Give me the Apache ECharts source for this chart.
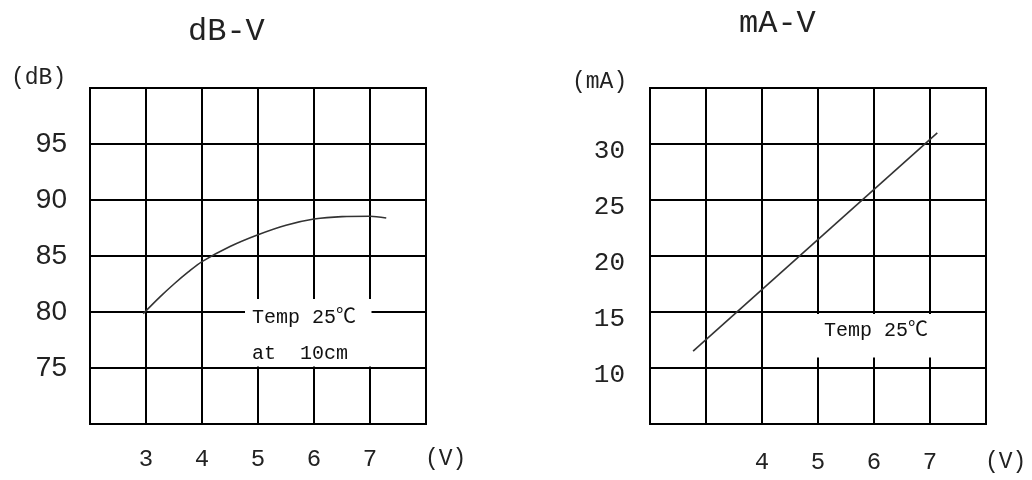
<!DOCTYPE html>
<html>
<head>
<meta charset="utf-8">
<script src="https://cdn.jsdelivr.net/npm/echarts@6/dist/echarts.min.js"></script>
<style>
html,body{margin:0;padding:0;background:#fff;}
#c{width:1032px;height:480px;}
</style>
</head>
<body>
<div id="c"></div>
<script>
// ---- data ----
const dbVoltage = [2.95, 3.25, 3.5, 3.75, 4.0, 4.5, 5.0, 5.5, 6.0, 6.5, 7.0, 7.29];
const dbValues  = [79.85, 81.35, 82.5, 83.55, 84.5, 85.85, 86.9, 87.75, 88.3, 88.52, 88.55, 88.4];
const maVoltage = [2.77, 7.13];
const maValues  = [11.5, 31.0];
const dbXTicks = [3, 4, 5, 6, 7];
const maXTicks = [4, 5, 6, 7];
const dbYTicks = [75, 80, 85, 90, 95];
const maYTicks = [10, 15, 20, 25, 30];
const titles = ['dB-V', 'mA-V'];
const yUnits = ['(dB)', '(mA)'];
const xUnit = '(V)';
const note1 = ['Temp 25℃', 'at  10cm'];
const note2 = ['Temp 25℃'];

const MONO = "'Liberation Mono','Noto Sans CJK SC',monospace";
const SANS = "'Liberation Sans',Arial,sans-serif";
const TXT = '#222';

function pick(ticks){ return v => ticks.indexOf(Math.round(v)) >= 0 && Math.abs(v-Math.round(v))<1e-6 ? String(v) : ''; }

const split = {show:true, lineStyle:{color:'#000', width:2}};
function xAx(gi, ticks, margin){
  return {type:'value', gridIndex:gi, min:2, max:8, interval:1,
    axisLine:{show:true, lineStyle:{color:'#000', width:2}}, axisTick:{show:false},
    splitLine:split,
    axisLabel:{formatter:pick(ticks), fontFamily:MONO, fontSize:24, color:TXT, margin:margin}};
}
function yAx(gi, min, max, ticks, font, size, extra){
  return {type:'value', gridIndex:gi, min:min, max:max, interval:5,
    axisLine:{show:true, lineStyle:{color:'#000', width:2}}, axisTick:{show:false},
    splitLine:split,
    axisLabel:Object.assign({formatter:pick(ticks), fontFamily:font, fontSize:size, color:TXT, margin:23}, extra)};
}

const chart = echarts.init(document.getElementById('c'), null, {renderer:'canvas'});
chart.setOption({
  backgroundColor:'#fff',
  animation:false,
  grid:[
    {left:90, top:88, width:336, height:336, show:true, borderColor:'#000', borderWidth:2, backgroundColor:'transparent'},
    {left:650, top:88, width:336, height:336, show:true, borderColor:'#000', borderWidth:2, backgroundColor:'transparent'}
  ],
  xAxis:[xAx(0, dbXTicks, 24), xAx(1, maXTicks, 27)],
  yAxis:[yAx(0, 70, 100, dbYTicks, SANS, 28, {}),
         yAx(1, 5, 35, maYTicks, MONO, 26, {verticalAlign:'top', lineHeight:14, margin:25})],
  series:[
    {type:'line', xAxisIndex:0, yAxisIndex:0, smooth:0.3, showSymbol:false, z:5,
     lineStyle:{color:'#333', width:1.6},
     data: dbVoltage.map((v,i)=>[v, dbValues[i]])},
    {type:'line', xAxisIndex:1, yAxisIndex:1, showSymbol:false, z:5,
     lineStyle:{color:'#333', width:1.6},
     data: maVoltage.map((v,i)=>[v, maValues[i]])}
  ],
  graphic:[
    {type:'text', left:188, top:16, z:100, style:{text:titles[0], font:"32px "+MONO, fill:TXT}},
    {type:'text', left:739, top:8, z:100, style:{text:titles[1], font:"32px "+MONO, fill:TXT}},
    {type:'text', left:11, top:66, z:100, style:{text:yUnits[0], font:"23px "+MONO, fill:TXT}},
    {type:'text', left:572, top:70, z:100, style:{text:yUnits[1], font:"23px "+MONO, fill:TXT}},
    {type:'text', left:425, top:447, z:100, style:{text:xUnit, font:"23px "+MONO, fill:TXT}},
    {type:'text', left:985, top:450, z:100, style:{text:xUnit, font:"23px "+MONO, fill:TXT}},
    {type:'rect', z:90, shape:{x:245, y:299, width:126.5, height:67.5}, style:{fill:'#fff'}},
    {type:'text', left:252, top:308, z:100, style:{text:note1[0], font:"20px "+MONO, fill:'#111'}},
    {type:'text', left:252, top:344, z:100, style:{text:note1[1], font:"20px "+MONO, fill:'#111'}},
    {type:'rect', z:90, shape:{x:770, y:314, width:190, height:43.5}, style:{fill:'#fff'}},
    {type:'text', left:824, top:321, z:100, style:{text:note2[0], font:"20px "+MONO, fill:'#111'}}
  ]
});
</script>
</body>
</html>
